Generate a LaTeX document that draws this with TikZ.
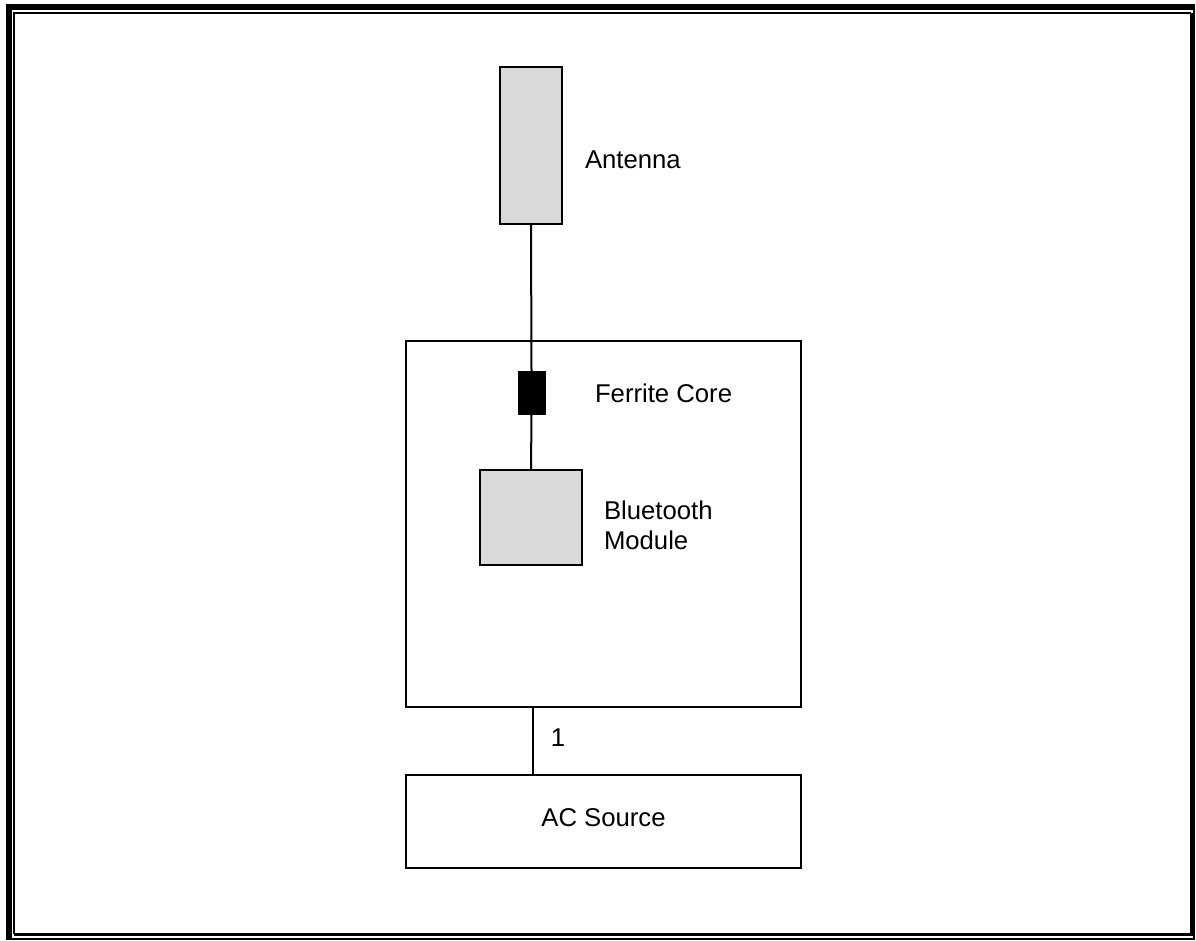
\documentclass[tikz,border=0pt]{standalone}
\usepackage{fontspec}
\setmainfont{Liberation Sans}
\begin{document}
\begin{tikzpicture}[x=1pt,y=-1pt,
  box/.style={draw=black,line width=2pt,inner sep=0pt,outer sep=0pt},
  part/.style={box,fill=gray!30},
  core/.style={draw=black,fill=black,line width=1pt,inner sep=0pt,outer sep=0pt},
  wire/.style={draw=black,line width=2pt},
  lbl/.style={inner sep=0pt,outer sep=0pt,font=\fontsize{25.7}{30}\selectfont,align=left},
  frame/.style={draw=black}]
\useasboundingbox (0,0) rectangle (1196,940);

% page frame: thick outer line, thin inner line
\draw[frame,line width=6pt] (9,939) -- (9,7) -- (1195,7);
\draw[frame,line width=2pt] (1194,7) -- (1194,939) -- (6,939);
\draw[frame,line width=2pt] (14,934) -- (14,12.5) -- (1191,12.5);
\draw[frame,line width=3pt] (1191,12.5) -- (1191,934) -- (14,934);

% blocks
\node[part,minimum width=62pt,minimum height=157pt] (ant) at (531,145.5) {};
\node[box,minimum width=395pt,minimum height=366pt] (dev) at (603.5,524) {};
\node[core,minimum width=27pt,minimum height=43pt] (fer) at (531.5,392.5) {};
\node[part,minimum width=102pt,minimum height=95pt] (bt) at (531,517.5) {};
\node[box,minimum width=395pt,minimum height=93pt] (ac) at (603.5,821.5) {};

% labels
\node[lbl,anchor=west] (antl) at (585,160) {Antenna};
\node[lbl,anchor=west] (ferl) at (595,393) {Ferrite Core};
\node[lbl,anchor=west] (btl) at (604,525) {Bluetooth\\Module};
\node[lbl] (acl) at ([yshift=4pt]ac.center) {AC Source};
\node[lbl] (one) at (558,738) {1};

% connections
\draw[wire] (ant.south) -- (fer.north);
\draw[wire] (fer.south) -- (bt.north);
\path (ac.north west) ++(127,0) coordinate (acin);
\draw[wire] (acin |- dev.south) -- (acin);
\end{tikzpicture}
\end{document}
